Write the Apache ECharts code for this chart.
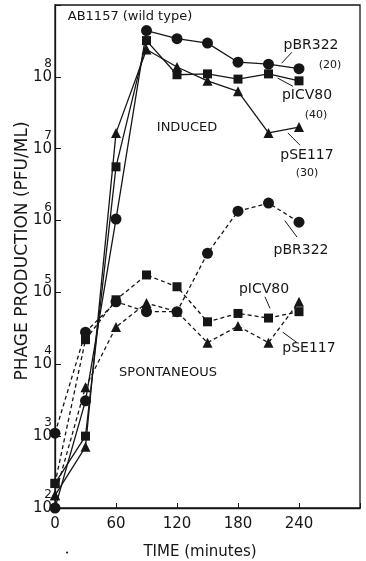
<!DOCTYPE html>
<html><head><meta charset="utf-8">
<script src="https://cdn.jsdelivr.net/npm/echarts@6/dist/echarts.min.js"></script>
<style>html,body{margin:0;padding:0;background:#fff}#c{width:366px;height:561px}</style>
</head><body><div id="c"></div>
<script>
// ---- data ----
const times = [0, 30, 60, 90, 120, 150, 180, 210, 240];
const xTickLabels = ['0', '60', '120', '180', '240'];
const yTickExponents = [2, 3, 4, 5, 6, 7, 8];

// Induced (solid lines)
const inducedPBR322 = [1.0e2, 3.1e3, 1.05e6, 4.4e8, 3.4e8, 2.95e8, 1.6e8, 1.5e8, 1.3e8];
const inducedPICV80 = [2.2e2, 1.0e3, 5.6e6, 3.2e8, 1.07e8, 1.1e8, 9.3e7, 1.1e8, 8.8e7];
const inducedPSE117 = [1.5e2, 7.1e2, 1.66e7, 2.4e8, 1.37e8, 8.8e7, 6.3e7, 1.66e7, 2.0e7];

// Spontaneous (dashed lines)
const spontPBR322 = [1.1e3, 2.8e4, 7.4e4, 5.4e4, 5.4e4, 3.5e5, 1.35e6, 1.75e6, 9.5e5];
const spontPICV80 = [2.2e2, 2.2e4, 7.9e4, 1.75e5, 1.2e5, 3.9e4, 5.1e4, 4.4e4, 5.4e4];
const spontPSE117 = [1.5e2, 4.8e3, 3.3e4, 7.1e4, 5.4e4, 2.0e4, 3.4e4, 2.0e4, 7.4e4];

// ---- chart ----
const INK = '#161616';
const FONT = 'DejaVu Sans';
const pair = arr => times.map((t, i) => [t, arr[i]]);

function mkSeries(arr, symbol, size, dashed) {
  return {
    type: 'line', data: pair(arr), symbol: symbol, symbolSize: size,
    itemStyle: { color: INK }, silent: true, animation: false,
    lineStyle: { color: INK, width: 1.3, type: dashed ? [4, 3] : 'solid' },
    z: dashed ? 3 : 4
  };
}

const leaders = [
  [[223, 1.55e8], [233, 2.2e8]],
  [[219, 9.6e7], [234, 7.4e7]],
  [[229, 1.66e7], [241, 1.12e7]],
  [[226, 1.0e6], [238, 5.9e5]],
  [[206.5, 8.7e4], [211.5, 6.0e4]],
  [[224, 2.8e4], [238, 2.0e4]]
];

const series = [
  mkSeries(spontPBR322, 'circle', 11, true),
  mkSeries(spontPICV80, 'rect', 9, true),
  mkSeries(spontPSE117, 'triangle', 10, true),
  mkSeries(inducedPBR322, 'circle', 11, false),
  mkSeries(inducedPICV80, 'rect', 9, false),
  mkSeries(inducedPSE117, 'triangle', 10, false),
  {
    type: 'line', data: [], silent: true, animation: false,
    markLine: {
      silent: true, symbol: 'none', animation: false,
      label: { show: false },
      lineStyle: { color: INK, width: 1, type: 'solid' },
      data: leaders.map(l => [{ coord: l[0] }, { coord: l[1] }])
    }
  }
];

function txt(text, x, y, size, opts) {
  return Object.assign({
    type: 'text', x: x, y: y, silent: true,
    style: { text: text, fill: INK, font: size + 'px "' + FONT + '"', textAlign: 'center', textVerticalAlign: 'middle' }
  }, opts || {});
}

const option = {
  backgroundColor: '#ffffff',
  animation: false,
  grid: { left: 55, right: 6, top: 5, bottom: 53, show: true, borderColor: INK, borderWidth: 1.3 },
  xAxis: {
    type: 'value', min: 0, max: 300, interval: 60,
    axisLine: { show: true, lineStyle: { color: INK, width: 1.3 } },
    axisTick: { show: true, inside: true, length: 5, lineStyle: { color: INK } },
    splitLine: { show: false },
    axisLabel: {
      color: INK, fontFamily: FONT, fontSize: 15, margin: 9,
      formatter: v => { const i = [0, 60, 120, 180, 240].indexOf(v); return i >= 0 ? xTickLabels[i] : ''; }
    }
  },
  yAxis: {
    type: 'log', logBase: 10, min: 1e2, max: 1e9,
    axisLine: { show: true, lineStyle: { color: INK, width: 1.3 } },
    axisTick: { show: true, inside: true, length: 6, lineStyle: { color: INK } },
    splitLine: { show: false },
    axisLabel: {
      margin: 3, color: INK, fontFamily: FONT,
      padding: [0, 0, 12, 0],
      formatter: v => {
        const e = Math.round(Math.log10(v));
        if (yTickExponents.indexOf(e) < 0) return '';
        return '{e|' + e + '}\n{b|10}';
      },
      rich: {
        e: { fontFamily: FONT, fontSize: 12, lineHeight: 12, color: INK, align: 'right' },
        b: { fontFamily: FONT, fontSize: 15, lineHeight: 14, color: INK, align: 'right' }
      }
    }
  },
  graphic: [
    txt('PHAGE PRODUCTION (PFU/ML)', 23, 251, 17, { rotation: Math.PI / 2 }),
    txt('TIME (minutes)', 200, 552, 15),
    txt('AB1157 (wild type)', 130, 17, 13),
    txt('INDUCED', 187, 128, 13),
    txt('SPONTANEOUS', 168, 373, 13),
    txt('pBR322', 311, 45, 14),
    txt('(20)', 330, 65, 11),
    txt('pICV80', 307, 95, 14),
    txt('(40)', 316, 115, 11),
    txt('pSE117', 307, 155, 14),
    txt('(30)', 307, 173, 11),
    txt('pBR322', 301, 250, 14),
    txt('pICV80', 264, 289, 14),
    txt('pSE117', 309, 348, 14),
    txt('•', 67, 553, 7)
  ],
  series: series
};

const chart = echarts.init(document.getElementById('c'), null, { renderer: 'canvas' });
chart.setOption(option);
</script>
</body></html>
